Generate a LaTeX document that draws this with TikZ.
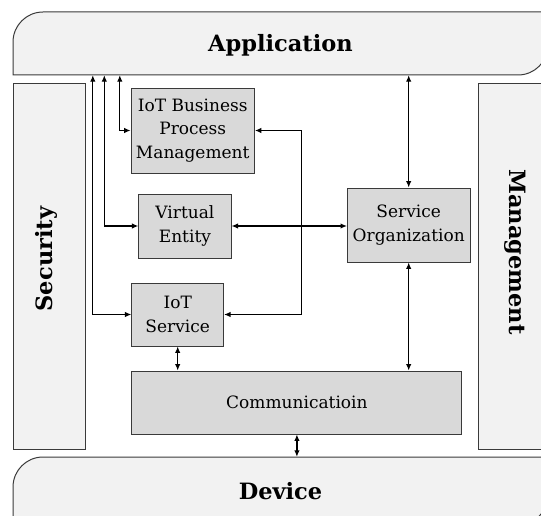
\documentclass[tikz,border=0pt]{standalone}
\usepackage{fontspec}
\setmainfont{DejaVu Serif}
\usetikzlibrary{arrows.meta}

\definecolor{layergray}{HTML}{F2F2F2}
\definecolor{blockgray}{HTML}{D9D9D9}
\definecolor{edgegray}{HTML}{3A3A3A}

\begin{document}
\begin{tikzpicture}[> = {Latex[length = 6.5pt, width = 5.5pt]}, x = 1pt, y = 1pt,
	layer/.style = {draw = edgegray, line width = 1pt, fill = layergray},
	layertext/.style = {font = \fontsize{22.5}{27}\selectfont\bfseries, inner sep = 0pt, text height = 17pt, text depth = 0pt},
	block/.style = {draw = edgegray, line width = 0.9pt, fill = blockgray, align = center, inner sep = 0pt, font = \fontsize{17}{23.5}\selectfont},
	link/.style = {<->, line width = 1.2pt}]

% Definitions

\def\rad{30}

\useasboundingbox (0, 0) rectangle (541, 515);

% Application and device layers

\draw [layer] (13, 440) -- (13, 503 - \rad) arc [start angle = 180, end angle = 90, radius = \rad] -- (548, 503) -- (548, 440 + \rad) arc [start angle = 0, end angle = -90, radius = \rad] -- cycle;
\draw [layer] (13, -10) -- (13, 58 - \rad) arc [start angle = 180, end angle = 90, radius = \rad] -- (548, 58) -- (548, -10 + \rad) arc [start angle = 0, end angle = -90, radius = \rad] -- cycle;

\node [layertext, minimum width = 535pt, minimum height = 63pt] (app) at (280.5, 471.5) {Application};
\node [layertext, minimum width = 535pt, minimum height = 68pt] (dev) at (280.5, 24) {Device};

% Side layers

\node [layer, minimum width = 72pt, minimum height = 365pt, inner sep = 0pt] (sec) at (49, 248.5) {};
\node [layertext, rotate = 90, anchor = base] (sec-label) at (52.5, 256) {Security};

\node [layer, minimum width = 82pt, minimum height = 365pt, inner sep = 0pt] (mgmt) at (519, 248.5) {};
\node [layertext, rotate = -90, anchor = base] (mgmt-label) at (509, 263) {Management};

% Blocks

\node [block, minimum width = 123.5pt, minimum height = 85pt] (bpm) at (192.75, 384.5) {IoT Business\\Process\\Management};
\node [block, minimum width = 92.3pt, minimum height = 64pt] (ve) at (184.9, 289) {Virtual\\Entity};
\node [block, minimum width = 122.5pt, minimum height = 74pt] (so) at (408.7, 290) {Service\\Organization};
\node [block, minimum width = 91.8pt, minimum height = 63pt] (ios) at (177.7, 200.5) {IoT\\Service};
\node [block, minimum width = 330pt, minimum height = 63pt] (comm) at (296.9, 112.5) {Communicatioin};

% Connections to the application layer

\draw [link] (ios.west) -| ([xshift = 80pt] app.south west);
\draw [link] (ve.west) -| ([xshift = 91.5pt] app.south west);
\draw [link] (bpm.west) -| ([xshift = 107pt] app.south west);
\draw [link] (so.north) -- (so.north |- app.south);

% Connections between blocks

\draw [link] (bpm.east) -- ++(46.5, 0) |- (ios.east);
\draw [link] (ve.east) -- (ve.east -| so.west);
\draw [link] (so.south) -- (so.south |- comm.north);
\draw [link] (ios.south) -- (ios.south |- comm.north);
\draw [link] (comm.south) -- (comm.south |- dev.north);

\end{tikzpicture}
\end{document}
